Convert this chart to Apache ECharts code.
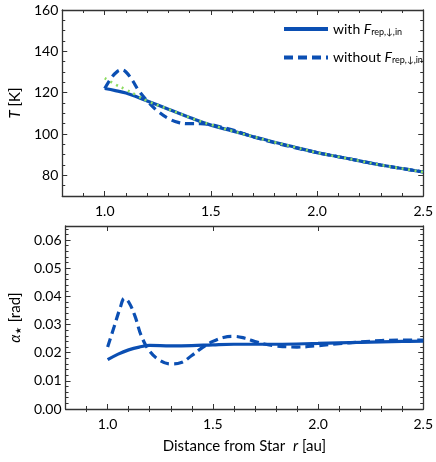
<!DOCTYPE html>
<html lang="en">
<head>
    <meta charset="UTF-8">
    <title>T and alpha vs r</title>
    <script src="https://cdn.jsdelivr.net/npm/echarts@6/dist/echarts.min.js"></script>
    <style>
        body { margin: 0; background: #fff; }
        #main { width: 436px; height: 462px; }
    </style>
</head>
<body>
    <div id="main"></div>
    <script>
        // top panel: temperature [K]
        const rWithT = [1.0, 1.05, 1.1, 1.15, 1.2, 1.3, 1.4, 1.5, 1.6, 1.7, 1.8, 1.9, 2.0, 2.1, 2.2, 2.3, 2.4, 2.5]
        const tWith = [122, 121, 119.8, 118, 116, 112, 108, 104.3, 101.5, 98.7, 96, 93.5, 91, 89, 87, 85, 83.3, 81.6]
        const rWithoutT = [1.0, 1.03, 1.06, 1.08, 1.1, 1.13, 1.16, 1.2, 1.25, 1.3, 1.35, 1.4, 1.45, 1.5, 1.55, 1.6, 1.65, 1.7, 1.8, 1.9, 2.0, 2.1, 2.2, 2.3, 2.4, 2.5]
        const tWithout = [122, 127, 130.3, 131, 130, 126, 121, 116, 111, 107.5, 105.5, 105, 105, 104.5, 103.3, 102, 100.3, 98.6, 95.8, 93.3, 91, 89, 87, 85, 83.3, 81.6]
        const rFitT = [1.0, 1.05, 1.1, 1.15, 1.2, 1.3, 1.4, 1.5, 1.6, 1.7, 1.8, 1.9, 2.0, 2.1, 2.2, 2.3, 2.4, 2.5]
        const tFit = [127, 124, 121.5, 118.7, 116, 112, 108, 104.5, 101.5, 98.7, 96, 93.5, 91, 89, 87, 85, 83.3, 81.6]

        // bottom panel: alpha_* [rad]
        const rWithA = [1.0, 1.05, 1.1, 1.15, 1.2, 1.3, 1.4, 1.5, 1.6, 1.8, 2.0, 2.2, 2.4, 2.5]
        const aWith = [0.0175, 0.0195, 0.021, 0.022, 0.0226, 0.0224, 0.0225, 0.0228, 0.023, 0.023, 0.0233, 0.0237, 0.024, 0.0241]
        const rWithoutA = [1.0, 1.03, 1.06, 1.08, 1.1, 1.13, 1.16, 1.2, 1.25, 1.3, 1.35, 1.4, 1.45, 1.5, 1.55, 1.6, 1.65, 1.7, 1.75, 1.8, 1.9, 2.0, 2.1, 2.2, 2.3, 2.4, 2.5]
        const aWithout = [0.022, 0.029, 0.036, 0.0393, 0.038, 0.033, 0.026, 0.0205, 0.0172, 0.016, 0.0165, 0.019, 0.0218, 0.024, 0.0254, 0.0258, 0.0252, 0.024, 0.023, 0.0224, 0.022, 0.0225, 0.0232, 0.0238, 0.0243, 0.0245, 0.0245]

        // ticks
        const xTicks = [1.0, 1.5, 2.0, 2.5]
        const xMinor = [0.9, 1.1, 1.2, 1.3, 1.4, 1.6, 1.7, 1.8, 1.9, 2.1, 2.2, 2.3, 2.4]
        const tTicks = [80, 100, 120, 140, 160]
        const tMinor = [75, 85, 90, 95, 105, 110, 115, 125, 130, 135, 145, 150, 155]
        const aTicks = [0, 0.01, 0.02, 0.03, 0.04, 0.05, 0.06]
        const aMinor = []
        for (let i = 1; i <= 32; i++) { if (i % 5) aMinor.push(+(i * 0.002).toFixed(3)) }

        const blue = '#0b4fb3'
        const green = '#8edc62'
        const frame = '#333'
        const font = 'Lato'

        const zip = (xs, ys) => xs.map((x, i) => [x, ys[i]])

        // one frame axis: major or minor ticks, inside, on a given side
        function xAx (grid, pos, ticks, len, opts) {
            return Object.assign({
                type: 'value', gridIndex: grid, position: pos, min: 0.8, max: 2.5,
                axisLine: { show: true, onZero: false, lineStyle: { color: frame, width: 1.3 } },
                axisTick: { show: true, inside: true, length: len, customValues: ticks, lineStyle: { color: frame, width: 1 } },
                axisLabel: { show: false },
                splitLine: { show: false }
            }, opts || {})
        }
        function yAx (grid, pos, min, max, ticks, len, opts) {
            return Object.assign({
                type: 'value', gridIndex: grid, position: pos, min: min, max: max,
                axisLine: { show: true, onZero: false, lineStyle: { color: frame, width: 1.3 } },
                axisTick: { show: true, inside: true, length: len, customValues: ticks, lineStyle: { color: frame, width: 1 } },
                axisLabel: { show: false },
                splitLine: { show: false }
            }, opts || {})
        }

        const xLabel = { show: true, customValues: xTicks, color: '#000', fontFamily: font, fontSize: 14, margin: 8,
            formatter: v => v.toFixed(1) }
        const richName = {
            i: { fontStyle: 'italic', fontFamily: font, fontSize: 15, color: '#000' },
            s: { fontFamily: font, fontSize: 10, color: '#000', padding: [7, 0, 0, 0] },
            st: { fontFamily: 'DejaVu Sans', fontSize: 8, color: '#000', padding: [7, 1, 0, 0] }
        }
        const richLegend = {
            i: { fontStyle: 'italic', fontFamily: font, fontSize: 14, color: '#000' },
            s: { fontFamily: font, fontSize: 9, color: '#000', padding: [6, 0, 0, 0] }
        }

        let chart = echarts.init(document.getElementById('main'))

        chart.setOption({
            animation: false,
            grid: [
                { left: 54, right: 11, top: 10, height: 186 },
                { left: 57, right: 11, top: 226, height: 183 }
            ],
            legend: {
                orient: 'vertical', left: 277, top: 17, itemWidth: 44, itemHeight: 14, itemGap: 14,
                data: ['with', 'without'],
                itemStyle: { opacity: 0 },
                lineStyle: { width: 4 },
                textStyle: { fontFamily: font, fontSize: 14, color: '#000', rich: richLegend },
                formatter: n => n + ' {i|F}{s|rep,↓,in}'
            },
            xAxis: [
                xAx(0, 'bottom', xTicks, 5, { axisLabel: xLabel }),
                xAx(0, 'bottom', xMinor, 3, { axisLine: { show: false } }),
                xAx(0, 'top', xTicks, 5),
                xAx(0, 'top', xMinor, 3, { axisLine: { show: false } }),
                xAx(1, 'bottom', xTicks, 5, {
                    axisLabel: xLabel,
                    name: 'Distance from Star  {i|r} [au]', nameLocation: 'middle', nameGap: 30,
                    nameTextStyle: { fontFamily: font, fontSize: 15, color: '#000', rich: richName }
                }),
                xAx(1, 'bottom', xMinor, 3, { axisLine: { show: false } }),
                xAx(1, 'top', xTicks, 5),
                xAx(1, 'top', xMinor, 3, { axisLine: { show: false } })
            ],
            yAxis: [
                yAx(0, 'left', 70, 160, tTicks, 5, {
                    axisLabel: { show: true, customValues: tTicks, color: '#000', fontFamily: font, fontSize: 14, margin: 4 },
                    name: '{i|T} [K]', nameLocation: 'middle', nameGap: 37,
                    nameTextStyle: { fontFamily: font, fontSize: 15, color: '#000', rich: richName }
                }),
                yAx(0, 'left', 70, 160, tMinor, 3, { axisLine: { show: false } }),
                yAx(0, 'right', 70, 160, tTicks, 5),
                yAx(0, 'right', 70, 160, tMinor, 3, { axisLine: { show: false } }),
                yAx(1, 'left', 0, 0.065, aTicks, 5, {
                    axisLabel: { show: true, customValues: aTicks, color: '#000', fontFamily: font, fontSize: 14, margin: 4,
                        formatter: v => v.toFixed(2) },
                    name: '{i|α}{st|★} [rad]', nameLocation: 'middle', nameGap: 39,
                    nameTextStyle: { fontFamily: font, fontSize: 15, color: '#000', rich: richName }
                }),
                yAx(1, 'left', 0, 0.065, aMinor, 3, { axisLine: { show: false } }),
                yAx(1, 'right', 0, 0.065, aTicks, 5),
                yAx(1, 'right', 0, 0.065, aMinor, 3, { axisLine: { show: false } })
            ],
            series: [
                {
                    name: 'with', type: 'line', smooth: 0.4, showSymbol: false, symbol: 'none',
                    xAxisIndex: 0, yAxisIndex: 0, data: zip(rWithT, tWith),
                    lineStyle: { color: blue, width: 3.2 }, itemStyle: { color: blue }
                },
                {
                    name: 'without', type: 'line', smooth: 0.4, showSymbol: false, symbol: 'none',
                    xAxisIndex: 0, yAxisIndex: 0, data: zip(rWithoutT, tWithout),
                    lineStyle: { color: blue, width: 3.2, type: [9, 5] }, itemStyle: { color: blue }
                },
                {
                    name: 'fit', type: 'line', smooth: 0.4, showSymbol: false, symbol: 'none',
                    xAxisIndex: 0, yAxisIndex: 0, data: zip(rFitT, tFit), z: 5,
                    lineStyle: { color: green, width: 2.6, type: [2, 4.5] }, itemStyle: { color: green }
                },
                {
                    name: 'with', type: 'line', smooth: 0.4, showSymbol: false, symbol: 'none',
                    xAxisIndex: 4, yAxisIndex: 4, data: zip(rWithA, aWith),
                    lineStyle: { color: blue, width: 3.2 }, itemStyle: { color: blue }
                },
                {
                    name: 'without', type: 'line', smooth: 0.4, showSymbol: false, symbol: 'none',
                    xAxisIndex: 4, yAxisIndex: 4, data: zip(rWithoutA, aWithout),
                    lineStyle: { color: blue, width: 3.2, type: [9, 5] }, itemStyle: { color: blue }
                }
            ]
        })
    </script>
</body>
</html>
